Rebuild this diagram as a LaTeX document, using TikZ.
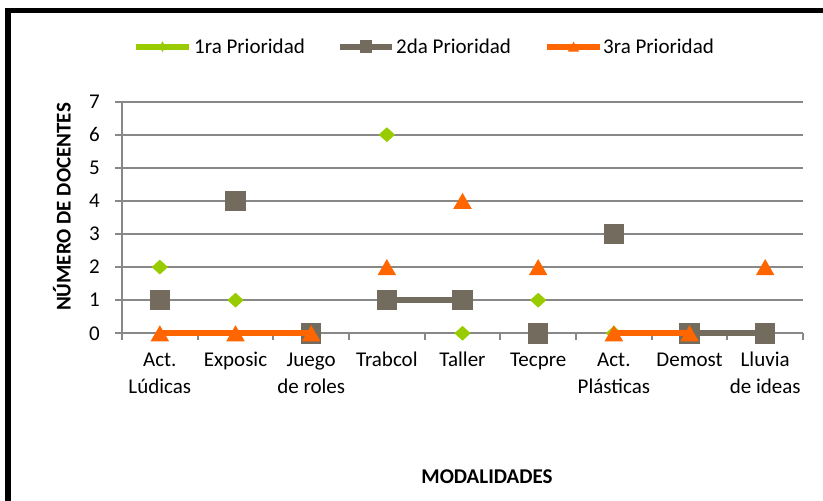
\documentclass[tikz,border=0pt]{standalone}
\usepackage{fontspec}
\setmainfont{Carlito}
\usetikzlibrary{shapes.geometric}
\definecolor{cgreen}{HTML}{99CC00}
\definecolor{cgray}{HTML}{736B5E}
\definecolor{corange}{HTML}{FF6600}
\definecolor{cgrid}{HTML}{888888}
\pgfdeclarelayer{grid}
\pgfdeclarelayer{ga}
\pgfdeclarelayer{gbl}
\pgfdeclarelayer{gbm}
\pgfdeclarelayer{gcl}
\pgfsetlayers{grid,ga,gbl,gbm,gcl,main}
\begin{document}
\begin{tikzpicture}[x=1pt,y=1pt,
  lbl/.style={font=\fontsize{21}{27}\selectfont, inner sep=0pt, text=black},
  blbl/.style={font=\fontsize{21}{27}\selectfont\bfseries, inner sep=0pt, text=black},
  mgreen/.style={diamond, fill=cgreen, inner sep=0pt, minimum width=16.5pt, minimum height=15pt},
  mgray/.style={rectangle, fill=cgray, inner sep=0pt, minimum size=20.5pt},
  morange/.style={regular polygon, regular polygon sides=3, fill=corange, inner sep=0pt, minimum size=21.5pt, yshift=-2.7pt},
  ser/.style={line width=6pt},
  gridl/.style={draw=cgrid, line width=2pt}]
\useasboundingbox (0,0) rectangle (823,501);
% frame
\draw[line width=5.5pt, black, line join=miter] (8,0) -- (8,490.5) -- (823,490.5);
% grid and axes
\begin{pgfonlayer}{grid}
\foreach \v in {1,...,7} \draw[gridl] (115,{167.7+33.1*\v}) -- (803,{167.7+33.1*\v});
\draw[gridl] (115,167.7) -- (803,167.7);
\draw[gridl] (122,167.7) -- (122,399.4);
\foreach \k in {0,...,9} \draw[gridl] ({122+75.67*\k},167.7) -- ++(0,-7);
\end{pgfonlayer}
% y tick labels
\foreach \v in {0,...,7} \node[lbl, anchor=east] (y\v) at (100,{167.7+33.1*\v}) {\v};
% category labels
\foreach \i/\t in {1/{\strut Act.\\\strut Lúdicas},2/{\strut Exposic},3/{\strut Juego\\\strut de roles},4/{\strut Trabcol},5/{\strut Taller},6/{\strut Tecpre},7/{\strut Act.\\\strut Plásticas},8/{\strut Demost},9/{\strut Lluvia\\\strut de ideas}}
  \node[lbl, align=center, anchor=north] (x\i) at ({84.165+75.67*\i},153.1) {\t};
% axis titles
\node[blbl, rotate=90] (ytitle) at (62,294) {NÚMERO DE DOCENTES};
\node[blbl] (xtitle) at (487,24) {MODALIDADES};
% series 1
\begin{pgfonlayer}{ga}
\foreach \i/\v in {1/2,2/1,4/6,5/0,6/1,7/0}
  \node[mgreen] (a\i) at ({84.165+75.67*\i},{167.7+33.1*\v}) {};
\end{pgfonlayer}
% series 2
\begin{pgfonlayer}{gbm}
\foreach \i/\v in {1/1,2/4,3/0,4/1,5/1,6/0,7/3,8/0,9/0}
  \node[mgray] (b\i) at ({84.165+75.67*\i},{167.7+33.1*\v}) {};
\end{pgfonlayer}
\begin{pgfonlayer}{gbl}
\draw[ser, cgray] (b4.center) -- (b5.center);
\draw[ser, cgray] (b8.center) -- (b9.center);
\end{pgfonlayer}
% series 3
\foreach \i/\v in {1/0,2/0,3/0,4/2,5/4,6/2,7/0,8/0,9/2}
  \node[morange] (c\i) at ({84.165+75.67*\i},{167.7+33.1*\v}) {};
\begin{pgfonlayer}{gcl}
\draw[ser, corange] ([yshift=2.7pt]c1.center) -- ([yshift=2.7pt]c2.center) -- ([yshift=2.7pt]c3.center);
\draw[ser, corange] ([yshift=2.7pt]c7.center) -- ([yshift=2.7pt]c8.center);
\end{pgfonlayer}
% legend
\coordinate (l1a) at (136,454.3); \coordinate (l1b) at (189,454.3);
\draw[ser, cgreen] (l1a) -- (l1b);
\node[diamond, fill=cgreen, inner sep=0pt, minimum width=6pt, minimum height=11pt] (lm1) at (162.5,454.3) {};
\node[lbl, anchor=west] (lt1) at (194,454.3) {1ra Prioridad};
\coordinate (l2a) at (340,454.3); \coordinate (l2b) at (392,454.3);
\draw[ser, cgray] (l2a) -- (l2b);
\node[rectangle, fill=cgray, inner sep=0pt, minimum size=12.5pt] (lm2) at (366,454.3) {};
\node[lbl, anchor=west] (lt2) at (396,454.3) {2da Prioridad};
\coordinate (l3a) at (547,454.3); \coordinate (l3b) at (600,454.3);
\draw[ser, corange] (l3a) -- (l3b);
\node[regular polygon, regular polygon sides=3, fill=corange, inner sep=0pt, minimum size=13pt, yshift=-1.6pt] (lm3) at (573.5,454.3) {};
\node[lbl, anchor=west] (lt3) at (603,454.3) {3ra Prioridad};
\end{tikzpicture}
\end{document}
